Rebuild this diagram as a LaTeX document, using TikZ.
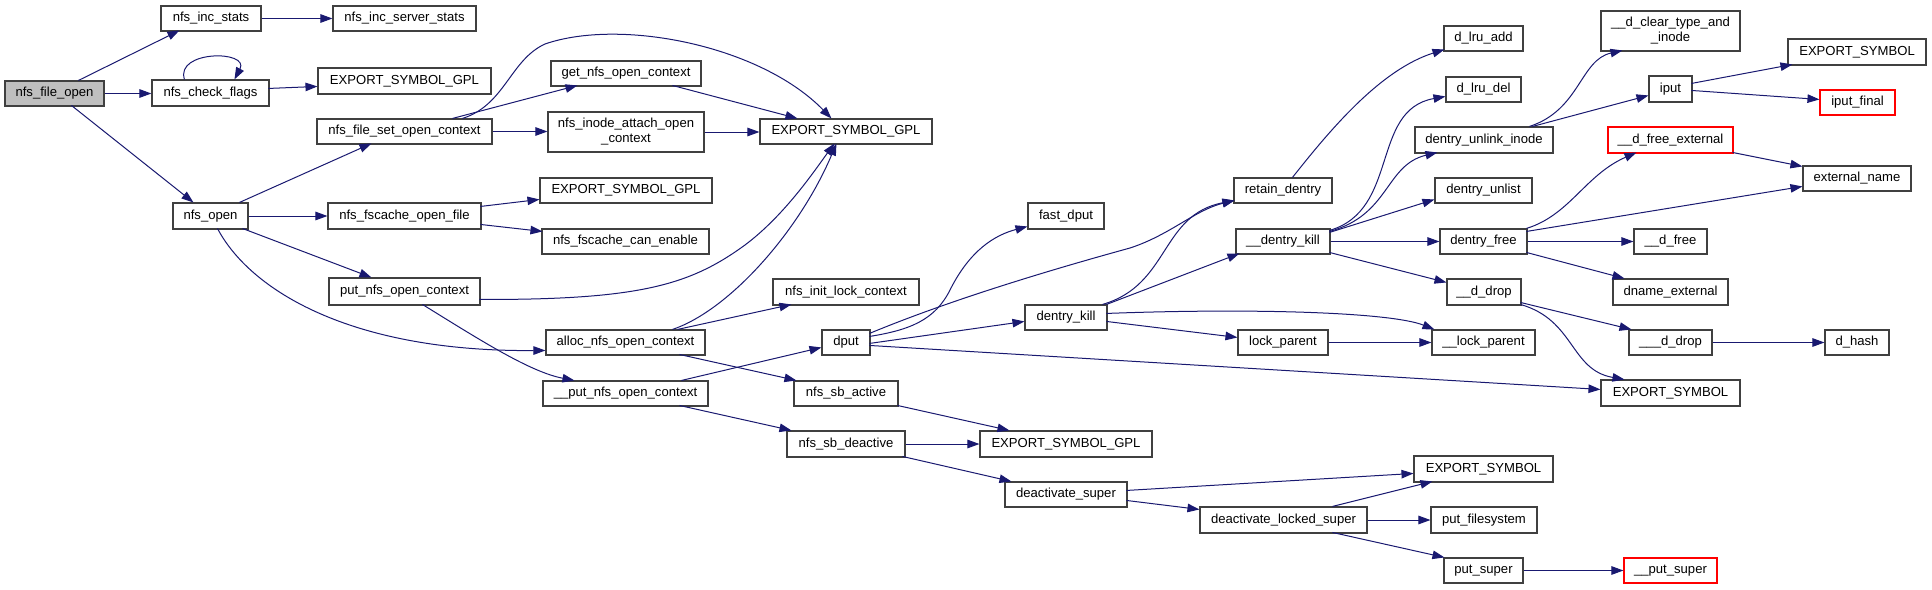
\documentclass[tikz,border=0pt]{standalone}
\usepackage{fontspec}
\setmainfont{Liberation Sans}
\usetikzlibrary{arrows.meta}
\definecolor{edgec}{HTML}{191970}
\definecolor{boxc}{HTML}{404040}
\definecolor{grayfill}{HTML}{BFBFBF}
\definecolor{redc}{HTML}{FF0000}
\tikzset{
 gbox/.style={draw=boxc, line width=1.1pt, fill=white, inner sep=0pt, align=center, font=\fontsize{13.1}{15}\selectfont},
 startbox/.style={fill=grayfill},
 redbox/.style={draw=redc},
 cedge/.style={draw=edgec, line width=1pt, -{Triangle[length=12pt,width=8.5pt]}}
}
\newcommand{\dbox}[7][]{\node[gbox,#1,minimum width={(#5-#3)*1pt},minimum height={(#6-#4)*1pt}] (#2) at ({(#3+#5)/2},{(#4+#6)/2}) {#7};}
\begin{document}
\begin{tikzpicture}[x=1pt,y=-1pt]
\useasboundingbox (0,0) rectangle (1932,589);
\dbox[startbox]{fo}{5}{81}{104}{106}{nfs\_file\_open}
\dbox{incst}{161}{6}{261}{31}{nfs\_inc\_stats}
\dbox{chk}{152}{80}{269}{106}{nfs\_check\_flags}
\dbox{open}{173}{203}{248}{229}{nfs\_open}
\dbox{incsrv}{333}{6}{476}{31}{nfs\_inc\_server\_stats}
\dbox{gpl1}{318}{68}{491}{94}{EXPORT\_SYMBOL\_GPL}
\dbox{fset}{317}{119}{492}{144}{nfs\_file\_set\_open\_context}
\dbox{getc}{551}{61}{701}{86}{get\_nfs\_open\_context}
\dbox{attach}{548}{112}{704}{152}{nfs\_inode\_attach\_open\\\_context}
\dbox{gpl2}{540}{178}{712}{203}{EXPORT\_SYMBOL\_GPL}
\dbox{fsopen}{328}{203}{481}{229}{nfs\_fscache\_open\_file}
\dbox{fscan}{542}{229}{709}{254}{nfs\_fscache\_can\_enable}
\dbox{putc}{329}{278}{480}{305}{put\_nfs\_open\_context}
\dbox{gplm}{760}{119}{932}{144}{EXPORT\_SYMBOL\_GPL}
\dbox{initlock}{773}{279}{919}{305}{nfs\_init\_lock\_context}
\dbox{alloc}{546}{330}{705}{355}{alloc\_nfs\_open\_context}
\dbox{uputc}{543}{381}{708}{406}{\_\_put\_nfs\_open\_context}
\dbox{dput}{822}{330}{870}{355}{dput}
\dbox{sbact}{794}{381}{898}{406}{nfs\_sb\_active}
\dbox{sbdeact}{787}{431}{905}{457}{nfs\_sb\_deactive}
\dbox{fastd}{1028}{203}{1104}{229}{fast\_dput}
\dbox{retain}{1234}{178}{1332}{203}{retain\_dentry}
\dbox{udkill}{1236}{229}{1330}{254}{\_\_dentry\_kill}
\dbox{dkill}{1025}{305}{1107}{330}{dentry\_kill}
\dbox{lockp}{1238}{330}{1328}{355}{lock\_parent}
\dbox{gpl3}{980}{431}{1152}{457}{EXPORT\_SYMBOL\_GPL}
\dbox{deact}{1005}{482}{1127}{507}{deactivate\_super}
\dbox{deactl}{1200}{507}{1367}{533}{deactivate\_locked\_super}
\dbox{lruadd}{1444}{26}{1523}{51}{d\_lru\_add}
\dbox{lrudel}{1446}{77}{1521}{102}{d\_lru\_del}
\dbox{unlink}{1415}{127}{1553}{153}{dentry\_unlink\_inode}
\dbox{unlist}{1435}{178}{1532}{203}{dentry\_unlist}
\dbox{dfree}{1440}{229}{1527}{254}{dentry\_free}
\dbox{udrop}{1447}{279}{1521}{305}{\_\_d\_drop}
\dbox{ulockp}{1432}{330}{1535}{355}{\_\_lock\_parent}
\dbox{es2}{1601}{380}{1740}{406}{EXPORT\_SYMBOL}
\dbox{es3}{1414}{456}{1553}{482}{EXPORT\_SYMBOL}
\dbox{putfs}{1431}{507}{1537}{533}{put\_filesystem}
\dbox{putsup}{1444}{558}{1523}{583}{put\_super}
\dbox{clear}{1601}{11}{1740}{51}{\_\_d\_clear\_type\_and\\\_inode}
\dbox{es1}{1788}{39}{1926}{65}{EXPORT\_SYMBOL}
\dbox{iput}{1649}{76}{1692}{102}{iput}
\dbox[redbox]{iputf}{1820}{90}{1895}{115}{iput\_final}
\dbox[redbox]{dfext}{1608}{127}{1733}{153}{\_\_d\_free\_external}
\dbox{extn}{1803}{166}{1911}{191}{external\_name}
\dbox{udfree}{1634}{229}{1707}{254}{\_\_d\_free}
\dbox{dnext}{1613}{279}{1728}{305}{dname\_external}
\dbox{uudrop}{1629}{330}{1712}{355}{\_\_\_d\_drop}
\dbox{dhash}{1825}{330}{1889}{355}{d\_hash}
\dbox[redbox]{uputsup}{1624}{558}{1717}{583}{\_\_put\_super}

\draw[cedge] ([shift={(74,0)}]fo.north west) -- ([shift={(19,25)}]incst.north west);
\draw[cedge] (fo.east) -- (fo.east -| chk.west);
\draw[cedge] ([shift={(67,25)}]fo.north west) -- ([shift={(21,0)}]open.north west);
\draw[cedge] (incst.east) -- (incst.east -| incsrv.west);
\draw[cedge] ([shift={(33,0)}]chk.north west) .. controls (175,50) and (250,50) .. ([shift={(83,0)}]chk.north west);
\draw[cedge] ([shift={(117,9)}]chk.north west) -- ([shift={(0,19)}]gpl1.north west);
\draw[cedge] ([shift={(67,0)}]open.north west) -- ([shift={(55,25)}]fset.north west);
\draw[cedge] (open.east) -- (open.east -| fsopen.west);
\draw[cedge] ([shift={(70,26)}]open.north west) -- ([shift={(43,0)}]putc.north west);
\draw[cedge] ([shift={(45,26)}]open.north west) .. controls (250,290) and (350,352) .. ([shift={(0,21)}]alloc.north west);
\draw[cedge] ([shift={(136,0)}]fset.north west) -- ([shift={(27,25)}]getc.north west);
\draw[cedge] (fset.east) -- (fset.east -| attach.west);
\draw[cedge] ([shift={(146,0)}]fset.north west) .. controls (505,105) and (510,60) .. (545,44) .. controls (620,18) and (760,45) .. ([shift={(72,0)}]gplm.north west);
\draw[cedge] ([shift={(122,25)}]getc.north west) -- ([shift={(38,0)}]gplm.north west);
\draw[cedge] (attach.east) -- (attach.east -| gplm.west);
\draw[cedge] ([shift={(153,4)}]fsopen.north west) -- ([shift={(0,22)}]gpl2.north west);
\draw[cedge] ([shift={(153,22)}]fsopen.north west) -- ([shift={(1,3)}]fscan.north west);
\draw[cedge] ([shift={(151,22)}]putc.north west) .. controls (640,300) and (690,285) .. (745,245) .. controls (785,215) and (815,170) .. ([shift={(75,25)}]gplm.north west);
\draw[cedge] ([shift={(94,27)}]putc.north west) .. controls (480,340) and (530,372) .. ([shift={(32,0)}]uputc.north west);
\draw[cedge] ([shift={(127,0)}]alloc.north west) .. controls (730,310) and (800,230) .. ([shift={(77,25)}]gplm.north west);
\draw[cedge] ([shift={(132,0)}]alloc.north west) -- ([shift={(19,26)}]initlock.north west);
\draw[cedge] ([shift={(134,25)}]alloc.north west) -- ([shift={(3,0)}]sbact.north west);
\draw[cedge] ([shift={(139,0)}]uputc.north west) -- ([shift={(0,18)}]dput.north west);
\draw[cedge] ([shift={(137,25)}]uputc.north west) -- ([shift={(5,0)}]sbdeact.north west);
\draw[cedge] ([shift={(48,7)}]dput.north west) .. controls (910,330) and (935,320) .. (950,290) .. controls (970,250) and (995,235) .. ([shift={(0,24)}]fastd.north west);
\draw[cedge] ([shift={(48,4)}]dput.north west) .. controls (950,300) and (1050,270) .. (1130,248) .. controls (1170,235) and (1195,210) .. ([shift={(1,23)}]retain.north west);
\draw[cedge] ([shift={(48,14)}]dput.north west) -- ([shift={(0,17)}]dkill.north west);
\draw[cedge] ([shift={(48,16)}]dput.north west) -- ([shift={(0,10)}]es2.north west);
\draw[cedge] ([shift={(104,25)}]sbact.north west) -- ([shift={(30,0)}]gpl3.north west);
\draw[cedge] (sbdeact.east) -- (sbdeact.east -| gpl3.west);
\draw[cedge] ([shift={(116,26)}]sbdeact.north west) -- ([shift={(7,0)}]deact.north west);
\draw[cedge] ([shift={(59,0)}]retain.north west) .. controls (1330,130) and (1380,70) .. ([shift={(1,24)}]lruadd.north west);
\draw[cedge] ([shift={(78,0)}]dkill.north west) .. controls (1170,285) and (1160,215) .. ([shift={(1,23)}]retain.north west);
\draw[cedge] ([shift={(82,0)}]dkill.north west) -- ([shift={(4,25)}]udkill.north west);
\draw[cedge] ([shift={(82,9)}]dkill.north west) .. controls (1250,308) and (1390,312) .. ([shift={(3,0)}]ulockp.north west);
\draw[cedge] ([shift={(82,17)}]dkill.north west) -- ([shift={(0,8)}]lockp.north west);
\draw[cedge] (lockp.east) -- (lockp.east -| ulockp.west);
\draw[cedge] ([shift={(94,2)}]udkill.north west) .. controls (1400,210) and (1370,110) .. ([shift={(0,20)}]lrudel.north west);
\draw[cedge] ([shift={(94,3)}]udkill.north west) .. controls (1390,215) and (1385,165) .. ([shift={(23,26)}]unlink.north west);
\draw[cedge] ([shift={(94,4)}]udkill.north west) -- ([shift={(0,22)}]unlist.north west);
\draw[cedge] (udkill.east) -- (udkill.east -| dfree.west);
\draw[cedge] ([shift={(94,24)}]udkill.north west) -- ([shift={(0,4)}]udrop.north west);
\draw[cedge] ([shift={(115,0)}]unlink.north west) .. controls (1580,110) and (1580,60) .. ([shift={(22,40)}]clear.north west);
\draw[cedge] ([shift={(118,0)}]unlink.north west) -- ([shift={(0,20)}]iput.north west);
\draw[cedge] ([shift={(43,8)}]iput.north west) -- ([shift={(5,26)}]es1.north west);
\draw[cedge] ([shift={(43,15)}]iput.north west) -- ([shift={(0,10)}]iputf.north west);
\draw[cedge] ([shift={(87,0)}]dfree.north west) .. controls (1570,215) and (1585,175) .. ([shift={(29,26)}]dfext.north west);
\draw[cedge] ([shift={(87,3)}]dfree.north west) -- ([shift={(0,21)}]extn.north west);
\draw[cedge] (dfree.east) -- (dfree.east -| udfree.west);
\draw[cedge] ([shift={(87,24)}]dfree.north west) -- ([shift={(12,0)}]dnext.north west);
\draw[cedge] ([shift={(125,26)}]dfext.north west) -- ([shift={(0,1)}]extn.north west);
\draw[cedge] ([shift={(74,24)}]udrop.north west) -- ([shift={(3,0)}]uudrop.north west);
\draw[cedge] ([shift={(74,26)}]udrop.north west) .. controls (1575,320) and (1570,370) .. ([shift={(24,0)}]es2.north west);
\draw[cedge] (uudrop.east) -- (uudrop.east -| dhash.west);
\draw[cedge] ([shift={(122,9)}]deact.north west) -- ([shift={(0,18)}]es3.north west);
\draw[cedge] ([shift={(122,19)}]deact.north west) -- ([shift={(0,3)}]deactl.north west);
\draw[cedge] ([shift={(133,0)}]deactl.north west) -- ([shift={(19,26)}]es3.north west);
\draw[cedge] (deactl.east) -- (deactl.east -| putfs.west);
\draw[cedge] ([shift={(133,26)}]deactl.north west) -- ([shift={(1,0)}]putsup.north west);
\draw[cedge] (putsup.east) -- (putsup.east -| uputsup.west);
\end{tikzpicture}
\end{document}
